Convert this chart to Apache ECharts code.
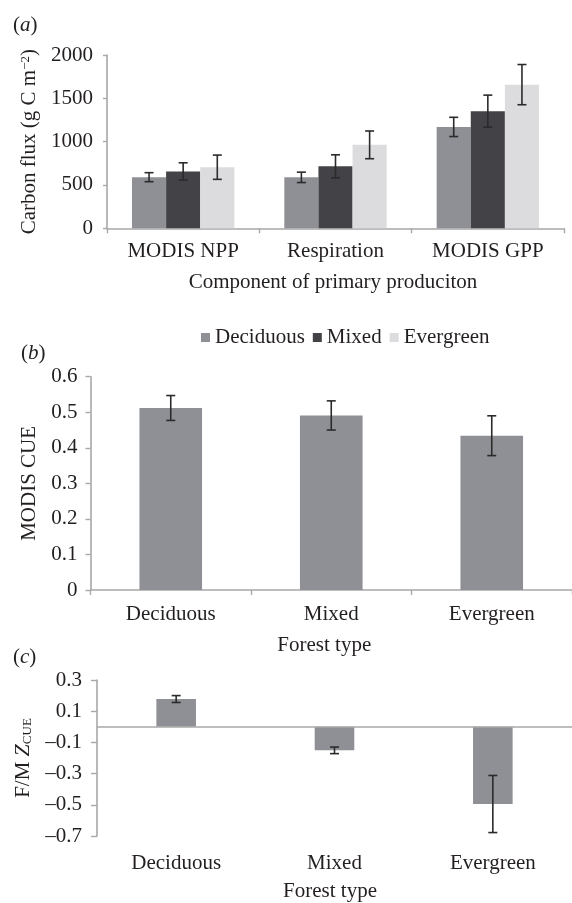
<!DOCTYPE html>
<html>
<head>
<meta charset="utf-8">
<script src="https://cdn.jsdelivr.net/npm/echarts@6/dist/echarts.min.js"></script>
<style>html,body{margin:0;padding:0;background:#fff}#c{width:572px;height:903px}</style>
</head>
<body>
<div id="c"></div>
<script>
// ---- Panel (a) data ----
const componentCats = ['MODIS NPP', 'Respiration', 'MODIS GPP'];
const seriesNames = ['Deciduous', 'Mixed', 'Evergreen'];
const deciduousFlux = [590, 588, 1170];
const deciduousFluxErr = [52, 60, 111];
const mixedFlux = [656, 715, 1352];
const mixedFluxErr = [100, 133, 185];
const evergreenFlux = [705, 963, 1658];
const evergreenFluxErr = [140, 160, 232];
const fluxTicks = [0, 500, 1000, 1500, 2000];

// ---- Panel (b) data ----
const forestCats = ['Deciduous', 'Mixed', 'Evergreen'];
const cueValues = [0.512, 0.491, 0.434];
const cueErr = [0.035, 0.041, 0.056];

// ---- Panel (c) data ----
const zValues = [0.178, -0.151, -0.495];
const zErr = [0.022, 0.021, 0.183];
const zTicks = [-0.7, -0.5, -0.3, -0.1, 0.1, 0.3];

const FONT = 'Liberation Serif';
const TXT = '#231f20';
const AX = '#a8a8a8';
const colDec = '#8e9095', colMix = '#434347', colEve = '#dcdcdf';
const FS = 21;

function errSeries(xi, yi, vals, errs, offsetFrac) {
  return {
    type: 'custom', xAxisIndex: xi, yAxisIndex: yi, silent: true, z: 10,
    data: vals.map((v, i) => [i, v - errs[i], v + errs[i]]),
    encode: { x: 0, y: [1, 2] },
    renderItem: function (params, api) {
      const x = api.value(0);
      const lo = api.coord([x, api.value(1)]);
      const hi = api.coord([x, api.value(2)]);
      const band = api.size([1, 0])[0];
      const cx = lo[0] + offsetFrac * band;
      const w = 4.5;
      const st = { stroke: '#2b2b2b', lineWidth: 1.6 };
      return { type: 'group', children: [
        { type: 'line', shape: { x1: cx, y1: lo[1], x2: cx, y2: hi[1] }, style: st },
        { type: 'line', shape: { x1: cx - w, y1: lo[1], x2: cx + w, y2: lo[1] }, style: st },
        { type: 'line', shape: { x1: cx - w, y1: hi[1], x2: cx + w, y2: hi[1] }, style: st }
      ]};
    }
  };
}

const labelStyle = { fontFamily: FONT, fontSize: FS, color: TXT };
const chart = echarts.init(document.getElementById('c'), null, { renderer: 'canvas' });
const barW = 0.224;
const titleStyle = { fontFamily: FONT, fontSize: FS, fontWeight: 'normal', color: TXT,
  rich: { i: { fontFamily: FONT, fontSize: FS, fontStyle: 'italic', color: TXT } } };

chart.setOption({
  animation: false,
  backgroundColor: '#fff',
  textStyle: { fontFamily: FONT, color: TXT },
  title: [
    { text: '({i|a})', left: 8, top: 10, textStyle: titleStyle },
    { text: '({i|b})', left: 16, top: 338, textStyle: titleStyle },
    { text: '({i|c})', left: 8, top: 642, textStyle: titleStyle }
  ],
  legend: {
    data: seriesNames, left: 196, top: 322, itemWidth: 9, itemHeight: 9, itemGap: 8,
    icon: 'rect', textStyle: { fontFamily: FONT, fontSize: FS, color: TXT }, selectedMode: false
  },
  grid: [
    { left: 107, top: 55, width: 457, height: 173.3 },
    { left: 90.5, top: 376.7, width: 489, height: 213.3 },
    { left: 97, top: 680, width: 483, height: 157.3 }
  ],
  xAxis: [
    { type: 'category', gridIndex: 0, data: componentCats,
      axisLine: { lineStyle: { color: AX, width: 1.6 } },
      axisTick: { show: true, length: 5, lineStyle: { color: AX, width: 1.4 } },
      axisLabel: Object.assign({ margin: 13 }, labelStyle),
      name: 'Component of primary produciton', nameLocation: 'middle', nameGap: 44,
      nameTextStyle: { fontFamily: FONT, fontSize: FS, color: TXT, padding: [0, 5, 0, 0] } },
    { type: 'category', gridIndex: 1, data: forestCats,
      axisLine: { lineStyle: { color: AX, width: 1.6 } },
      axisTick: { show: true, length: 5, lineStyle: { color: AX, width: 1.4 } },
      axisLabel: Object.assign({ margin: 14 }, labelStyle),
      name: 'Forest type', nameLocation: 'middle', nameGap: 45,
      nameTextStyle: { fontFamily: FONT, fontSize: FS, color: TXT, padding: [0, 14, 0, 0] } },
    { type: 'category', gridIndex: 2, data: forestCats,
      axisLine: { show: false, onZero: false }, axisTick: { show: false },
      axisLabel: Object.assign({ margin: 17 }, labelStyle),
      name: 'Forest type', nameLocation: 'middle', nameGap: 45,
      nameTextStyle: { fontFamily: FONT, fontSize: FS, color: TXT, padding: [0, 9, 0, 0] } }
  ],
  yAxis: [
    { type: 'value', gridIndex: 0, min: fluxTicks[0], max: fluxTicks[fluxTicks.length - 1], interval: 500,
      splitLine: { show: false },
      axisLine: { show: true, lineStyle: { color: AX, width: 1.6 } },
      axisTick: { show: true, length: 4, lineStyle: { color: AX, width: 1.4 } },
      axisLabel: Object.assign({ margin: 14, formatter: v => String(v) }, labelStyle),
      name: 'Carbon flux (g C m{sup|−2})', nameLocation: 'middle', nameGap: 64, nameRotate: 90,
      nameTextStyle: { fontFamily: FONT, fontSize: FS, color: TXT,
        rich: { sup: { fontFamily: FONT, fontSize: 13, color: TXT, verticalAlign: 'top', padding: [0, 0, 8, 0] } } } },
    { type: 'value', gridIndex: 1, min: 0, max: 0.6, interval: 0.1,
      splitLine: { show: false },
      axisLine: { show: true, lineStyle: { color: AX, width: 1.6 } },
      axisTick: { show: true, length: 5, lineStyle: { color: AX, width: 1.4 } },
      axisLabel: Object.assign({ margin: 13, formatter: v => v === 0 ? '0' : v.toFixed(1) }, labelStyle),
      name: 'MODIS CUE', nameLocation: 'middle', nameGap: 51, nameRotate: 90,
      nameTextStyle: { fontFamily: FONT, fontSize: FS, color: TXT } },
    { type: 'value', gridIndex: 2, min: zTicks[0], max: zTicks[zTicks.length - 1], interval: 0.2,
      splitLine: { show: false },
      axisLine: { show: true, lineStyle: { color: AX, width: 1.6 } },
      axisTick: { show: true, length: 6, lineStyle: { color: AX, width: 1.4 } },
      axisLabel: Object.assign({ margin: 15, formatter: v => (v < 0 ? '–' : '') + Math.abs(v).toFixed(1) }, labelStyle),
      name: 'F/M {z|Z}{sub|CUE}', nameLocation: 'middle', nameGap: 60, nameRotate: 90,
      nameTextStyle: { fontFamily: FONT, fontSize: FS, color: TXT,
        rich: { z: { fontFamily: FONT, fontSize: FS + 1, fontStyle: 'italic', color: TXT },
                sub: { fontFamily: FONT, fontSize: 13, color: TXT, verticalAlign: 'bottom', padding: [6, 0, 0, 0] } } } }
  ],
  series: [
    { name: 'Deciduous', type: 'bar', xAxisIndex: 0, yAxisIndex: 0, data: deciduousFlux, barWidth: '22.4%', barGap: '0%', itemStyle: { color: colDec } },
    { name: 'Mixed', type: 'bar', xAxisIndex: 0, yAxisIndex: 0, data: mixedFlux, barWidth: '22.4%', barGap: '0%', itemStyle: { color: colMix } },
    { name: 'Evergreen', type: 'bar', xAxisIndex: 0, yAxisIndex: 0, data: evergreenFlux, barWidth: '22.4%', barGap: '0%', itemStyle: { color: colEve } },
    errSeries(0, 0, deciduousFlux, deciduousFluxErr, -barW),
    errSeries(0, 0, mixedFlux, mixedFluxErr, 0),
    errSeries(0, 0, evergreenFlux, evergreenFluxErr, barW),
    { name: 'CUE', type: 'bar', xAxisIndex: 1, yAxisIndex: 1, data: cueValues, barWidth: '39%', itemStyle: { color: colDec } },
    errSeries(1, 1, cueValues, cueErr, 0),
    { name: 'Z', type: 'bar', xAxisIndex: 2, yAxisIndex: 2, data: zValues, barWidth: '25%', itemStyle: { color: colDec },
      markLine: { silent: true, symbol: 'none', label: { show: false },
        lineStyle: { color: AX, width: 1.6, type: 'solid' }, data: [{ yAxis: 0 }] } },
    errSeries(2, 2, zValues, zErr, 0)
  ]
});
</script>
</body>
</html>
